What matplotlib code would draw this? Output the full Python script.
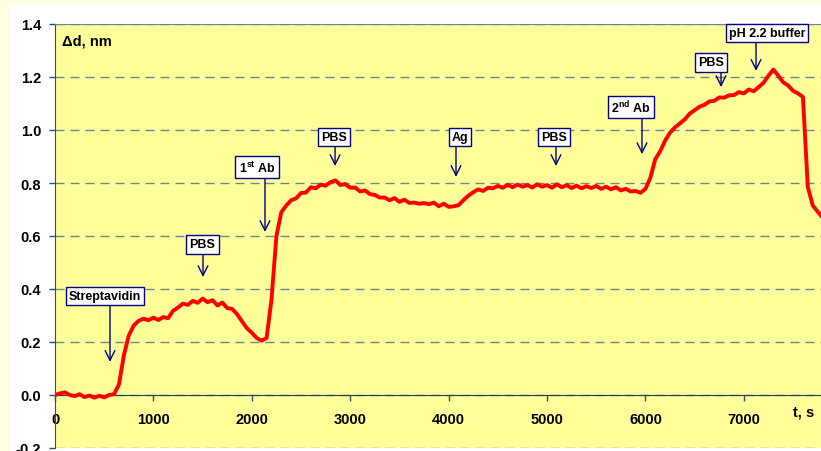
import numpy as np
import matplotlib
matplotlib.use("Agg")
import matplotlib.pyplot as plt
from matplotlib.patches import Rectangle

plt.rcParams['font.family'] = ['Liberation Sans', 'DejaVu Sans']
plt.rcParams['font.weight'] = 'bold'
plt.rcParams['mathtext.fontset'] = 'custom'
plt.rcParams['mathtext.rm'] = 'Liberation Sans:bold'
plt.rcParams['mathtext.bf'] = 'Liberation Sans:bold'

# time axis, s (one reading every 50 s)
t = np.arange(0, 7801, 50)

# thickness change, nm
dd = [
    0.000, 0.006, 0.010, 0.000, -0.004, 0.003, -0.008, -0.002, -0.010, -0.003,
    -0.009, 0.000, 0.003, 0.040, 0.150, 0.225, 0.262, 0.280, 0.288, 0.282,
    0.292, 0.283, 0.294, 0.290, 0.318, 0.330, 0.345, 0.340, 0.355, 0.348,
    0.364, 0.350, 0.358, 0.338, 0.349, 0.328, 0.325, 0.305, 0.278, 0.252,
    0.235, 0.215, 0.205, 0.215, 0.360, 0.600, 0.690, 0.715, 0.735, 0.742,
    0.762, 0.764, 0.784, 0.780, 0.794, 0.790, 0.803, 0.810, 0.792, 0.796,
    0.782, 0.783, 0.768, 0.772, 0.758, 0.755, 0.745, 0.745, 0.735, 0.743,
    0.729, 0.737, 0.725, 0.726, 0.722, 0.724, 0.720, 0.726, 0.712, 0.722,
    0.710, 0.712, 0.716, 0.735, 0.752, 0.765, 0.776, 0.770, 0.782, 0.780,
    0.789, 0.782, 0.793, 0.784, 0.794, 0.786, 0.792, 0.783, 0.795, 0.786,
    0.792, 0.782, 0.795, 0.784, 0.792, 0.781, 0.790, 0.780, 0.788, 0.781,
    0.789, 0.778, 0.786, 0.776, 0.784, 0.772, 0.778, 0.768, 0.770, 0.763,
    0.778, 0.820, 0.890, 0.920, 0.960, 0.990, 1.010, 1.025, 1.040, 1.062,
    1.075, 1.088, 1.095, 1.108, 1.110, 1.123, 1.122, 1.131, 1.132, 1.143,
    1.138, 1.153, 1.146, 1.162, 1.178, 1.205, 1.228, 1.205, 1.180, 1.168,
    1.148, 1.138, 1.125, 0.785, 0.715, 0.692, 0.670,
]

# injection labels
labels = ['Streptavidin', 'PBS', r'1$^{\mathbf{st}}$ Ab', 'PBS', 'Ag', 'PBS',
          r'2$^{\mathbf{nd}}$ Ab', 'PBS', 'pH 2.2 buffer']
box_x = [508, 1499, 2053, 2835, 4116, 5071, 5854, 6667, 7236]
box_y = [0.374, 0.568, 0.860, 0.974, 0.974, 0.974, 1.087, 1.255, 1.366]
arrow_x = [559, 1504, 2134, 2846, 4075, 5091, 5965, 6768, 7124]
arrow_tip = [0.125, 0.445, 0.615, 0.864, 0.823, 0.864, 0.909, 1.162, 1.223]

navy = '#000080'
grid_c = '#6A8595'

fig = plt.figure(figsize=(8.21, 4.52), dpi=100)
fig.patch.set_facecolor('#FFFFE0')
fig.add_artist(Rectangle((10 / 821, 0), 1, 1 - 5 / 452, transform=fig.transFigure,
                         facecolor='white', edgecolor='none', zorder=-1))

ax = fig.add_axes([55 / 821, 3 / 452, 1 - 55 / 821, 424 / 452])
ax.set_facecolor('#FFFF99')

ax.plot(t, dd, color='red', lw=2.8, zorder=3)

ax.set_xlim(0, 7784)
ax.set_ylim(-0.2, 1.4)
ax.set_yticks(np.arange(-0.2, 1.41, 0.2))
ax.set_yticklabels(['%.1f' % v for v in np.arange(-0.2, 1.41, 0.2)])
ax.set_xticks(np.arange(0, 7001, 1000))
ax.tick_params(axis='y', length=4, width=1, color='#2F4F6F', pad=6, labelsize=10.5)
ax.tick_params(axis='x', length=4, width=1, color='#2F4F6F', pad=8, labelsize=10.5)

ax.yaxis.grid(True, linestyle=(0, (6.5, 4.3)), color=grid_c, lw=1)
ax.set_axisbelow(True)

ax.spines['bottom'].set_position(('data', 0))
ax.spines['bottom'].set_color('#1F3F5F')
ax.spines['left'].set_color('#2F4F6F')
ax.spines['top'].set_color(grid_c)
ax.spines['right'].set_visible(False)

for lab, bx, by, axx, tip in zip(labels, box_x, box_y, arrow_x, arrow_tip):
    ax.text(bx, by, lab, ha='center', va='center', fontsize=9, zorder=5,
            bbox=dict(boxstyle='square,pad=0.25', fc='white', ec=navy, lw=1))
    ax.annotate('', xy=(axx, tip), xytext=(axx, by - 0.034),
                arrowprops=dict(arrowstyle='->,head_length=0.7,head_width=0.35',
                                color=navy, lw=1, shrinkA=0, shrinkB=0),
                zorder=4)

ax.text((62 - 55) / 766, (449 - 42) / 424, '\u0394d, nm', transform=ax.transAxes,
        ha='left', va='center', fontsize=10.5)
ax.text(7500, -0.064, 't, s', ha='left', va='center', fontsize=10.5)

fig.savefig('out.png', dpi=100, facecolor=fig.get_facecolor())
